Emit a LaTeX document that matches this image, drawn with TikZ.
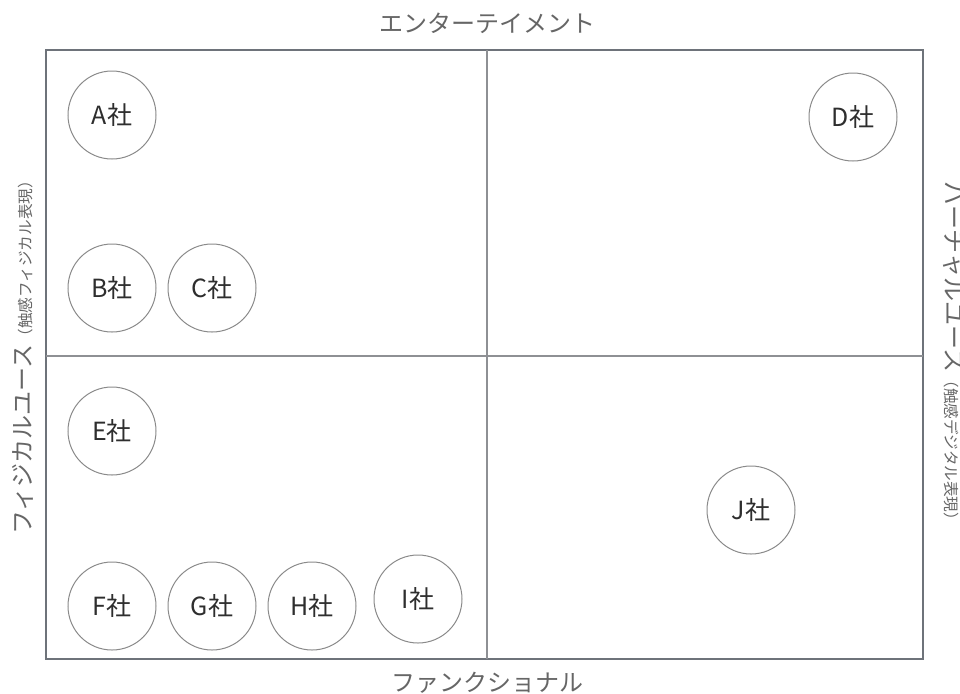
\documentclass[tikz,border=0pt]{standalone}
\usepackage{fontspec}
\setmainfont{Noto Sans CJK JP}
\usetikzlibrary{positioning, calc}
\definecolor{framegray}{HTML}{6E737A}
\definecolor{linegray}{HTML}{8E9094}
\definecolor{ringgray}{HTML}{8A8A8A}
\definecolor{labelgray}{HTML}{666666}
\definecolor{namegray}{HTML}{2E2E2E}
\tikzset{
  axis_font/.style = {font=\fontsize{12}{14}\selectfont},
  company_font/.style = {font=\fontsize{12.5}{14}\selectfont}
}
\tikzset{
  axis/.style = {axis_font, text=labelgray, inner sep=0},
  company/.style = {company_font, circle, draw=ringgray, line width=0.5pt,
    minimum size=44pt, inner sep=0, text=namegray},
  frame/.style = {draw=framegray, line width=1pt},
  divider/.style = {draw=linegray, line width=0.8pt}
}
\newcommand{\note}[1]{{\fontsize{7.8}{9}\selectfont #1}}

\begin{document}
\begin{tikzpicture}[x=0.5pt, y=-0.5pt]{
        \useasboundingbox (0,0) rectangle (960,693);

        % Matrix
        \coordinate (nw) at (46,50);
        \coordinate (se) at (923,659);
        \coordinate (mid) at (487,356);
        \draw[frame] (nw) rectangle (se);
        \draw[divider] (mid |- nw)--(mid |- se);
        \draw[divider] (mid -| nw)--(mid -| se);

        % Axes
        \node[axis] at (mid |- 0,23) (top) {
            エンターテイメント};
        \node[axis] at (mid |- 0,683) (bottom) {
            ファンクショナル};
        \node[axis, rotate=90, anchor=base] at (32,354) (left) {
            フィジカルユース\note{（触感フィジカル表現）}};
        \node[axis, rotate=-90, anchor=base] at (945,355) (right) {
            バーチャルユース\note{（触感デジタル表現）}};

        % Companies
        \node[company] at (112,115) (a) {A社};
        \node[company] at (853,117) (d) {D社};
        \node[company] at (112,288) (b) {B社};
        \node[company] at (212,288) (c) {C社};
        \node[company] at (112,431) (e) {E社};
        \node[company] at (751,510) (j) {J社};
        \node[company] at (112,606) (f) {F社};
        \node[company] at (212,606) (g) {G社};
        \node[company] at (312,606) (h) {H社};
        \node[company] at (418,599) (i) {I社};
        }
    \end{tikzpicture}
\end{document}
